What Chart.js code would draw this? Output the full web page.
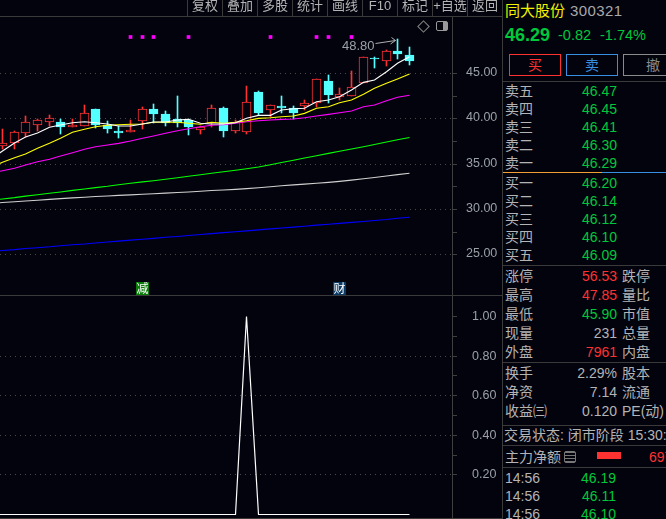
<!DOCTYPE html>
<html>
<head>
<meta charset="utf-8">
<script src="https://cdn.jsdelivr.net/npm/chart.js@4/dist/chart.umd.min.js"></script>
<style>
html, body { margin: 0; padding: 0; background: #03030e; }
#page { position: relative; width: 666px; height: 519px; overflow: hidden; background: #03030e;
        font-family: "Liberation Sans", "Noto Sans CJK SC", sans-serif; font-size: 14px; color: #b4b4b4; }
canvas { position: absolute; left: 0; }
.t { position: absolute; white-space: nowrap; line-height: 18px; height: 18px; }
.r { text-align: right; }
.hl { position: absolute; left: 503px; width: 163px; height: 1px; background: #3a3a3a; }
.tool { position: absolute; top: 0; width: 35px; height: 16px; line-height: 12px; text-align: center; font-size: 13px;
        border-left: 1px solid #3a3a3a; box-sizing: border-box; color: #b4b4b4; overflow: hidden; }
.btn { position: absolute; top: 54px; height: 22px; line-height: 20px; box-sizing: border-box; text-align: center; border: 1px solid; }
.green { color: #00c83c; }
.red { color: #ff3232; }
</style>
</head>
<body>
<div id="page">
  <canvas id="priceChart" width="500" height="279" style="top:16px"></canvas>
  <canvas id="signalChart" width="500" height="223" style="top:296px"></canvas>
  <div style="position:absolute;left:0;top:16px;width:502px;height:1px;background:#3a3a3a"></div>
  <div style="position:absolute;left:0;top:295px;width:502px;height:1px;background:#3a3a3a"></div>
  <div style="position:absolute;left:0;top:518px;width:502px;height:1px;background:#3a3a3a"></div>
  <div style="position:absolute;left:502px;top:0;width:1px;height:519px;background:#3a3a3a"></div>
  <div id="tools"></div>
  <div style="position:absolute;left:419px;top:22px;width:7px;height:7px;border:1px solid #888;transform:rotate(45deg)"></div>
  <div style="position:absolute;left:436px;top:21px;width:10px;height:8px;border:1px solid #999;border-radius:2px;background:linear-gradient(90deg,#03030e 60%,#999 60%)"></div>
  <div id="panel"></div>
</div>
<script>
// toolbar + quote panel text
const toolLabels = ['复权', '叠加', '多股', '统计', '画线', 'F10', '标记', '+自选', '返回'];
const askLabels = ['卖五', '卖四', '卖三', '卖二', '卖一'];
const askPrices = ['46.47', '46.45', '46.41', '46.30', '46.29'];
const bidLabels = ['买一', '买二', '买三', '买四', '买五'];
const bidPrices = ['46.20', '46.14', '46.12', '46.10', '46.09'];
const statLabels = ['涨停', '最高', '最低', '现量', '外盘'];
const statValues = ['56.53', '47.85', '45.90', '231', '7961'];
const statClasses = ['red', 'red', 'green', '', 'red'];
const statRight = ['跌停', '量比', '市值', '总量', '内盘'];
const infoLabels = ['换手', '净资', '收益㈢'];
const infoValues = ['2.29%', '7.14', '0.120'];
const infoRight = ['股本', '流通', 'PE(动)'];
const tickTimes = ['14:56', '14:56', '14:56'];
const tickPrices = ['46.19', '46.11', '46.10'];

// candles, one entry per day
const days = [0, 1, 2, 3, 4, 5, 6, 7, 8, 9, 10, 11, 12, 13, 14, 15, 16, 17, 18, 19, 20, 21, 22, 23, 24, 25, 26, 27, 28, 29, 30, 31, 32, 33, 34, 35];
const opens = [36.98, 37.31, 38.41, 39.30, 39.63, 39.59, 39.04, 39.19, 41.03, 39.26, 38.60, 38.49, 39.74, 41.03, 40.48, 39.93, 39.81, 38.71, 39.48, 41.14, 38.60, 38.52, 42.90, 40.92, 41.36, 41.11, 41.36, 41.69, 44.12, 42.39, 42.50, 43.93, 46.62, 46.36, 47.43, 47.00];
const closes = [37.24, 38.46, 39.56, 39.78, 40.00, 39.04, 39.23, 40.55, 39.26, 38.82, 38.38, 38.68, 41.00, 40.48, 39.48, 39.48, 39.04, 39.04, 41.14, 38.60, 39.59, 41.80, 40.59, 41.44, 41.14, 40.59, 41.66, 44.34, 42.57, 42.65, 43.42, 46.77, 46.51, 47.43, 47.10, 46.29];
const highs = [38.79, 38.60, 40.26, 39.89, 40.37, 39.89, 39.89, 41.47, 41.03, 39.70, 39.15, 39.81, 41.25, 41.58, 40.81, 42.46, 39.93, 39.15, 41.47, 41.25, 39.81, 43.57, 43.01, 41.44, 42.46, 41.36, 42.02, 44.34, 44.78, 43.35, 45.22, 46.77, 46.77, 47.54, 48.80, 47.85];
const lows = [36.62, 36.62, 37.94, 38.60, 39.15, 38.27, 39.04, 39.15, 38.93, 38.41, 37.83, 38.49, 38.82, 39.52, 39.15, 39.04, 38.16, 38.27, 39.04, 37.94, 38.38, 38.27, 40.37, 40.18, 40.59, 39.93, 40.92, 41.25, 41.72, 42.02, 42.46, 43.90, 45.55, 45.77, 46.54, 45.90];

// moving averages, these also carry the day before the first candle (day -1) so they run off the left edge
const ma5 = [35.51, 36.40, 37.28, 37.94, 38.38, 39.01, 39.26, 39.52, 39.63, 39.52, 39.37, 39.15, 39.15, 39.37, 39.59, 39.59, 39.81, 39.89, 39.45, 39.37, 39.37, 39.52, 40.00, 40.33, 40.33, 40.92, 41.06, 41.11, 41.83, 42.02, 42.39, 43.12, 43.97, 44.23, 45.14, 46.07, 46.80];
const ma10 = [34.63, 35.15, 35.66, 36.06, 36.69, 37.24, 37.80, 38.46, 38.79, 39.08, 39.23, 39.30, 39.34, 39.37, 39.56, 39.56, 39.56, 39.45, 39.34, 39.56, 39.45, 39.56, 39.74, 40.00, 40.07, 40.18, 40.26, 40.55, 41.11, 41.28, 41.72, 42.02, 42.65, 43.31, 43.86, 44.34, 44.89];
const ma20 = [33.97, 34.22, 34.49, 34.85, 35.21, 35.48, 35.84, 36.21, 36.58, 36.87, 37.06, 37.24, 37.50, 37.80, 38.05, 38.35, 38.63, 38.86, 39.08, 39.23, 39.30, 39.45, 39.63, 39.74, 39.81, 39.89, 39.93, 40.07, 40.26, 40.44, 40.62, 40.81, 41.28, 41.47, 41.94, 42.32, 42.54];
const ma60 = [30.95, 31.10, 31.25, 31.42, 31.57, 31.73, 31.88, 32.05, 32.20, 32.36, 32.51, 32.68, 32.83, 32.99, 33.12, 33.28, 33.45, 33.61, 33.78, 33.95, 34.10, 34.27, 34.43, 34.63, 34.88, 35.13, 35.38, 35.62, 35.88, 36.13, 36.37, 36.62, 36.87, 37.12, 37.38, 37.63, 37.88];
const ma120 = [30.64, 30.71, 30.79, 30.88, 30.97, 31.06, 31.14, 31.22, 31.30, 31.38, 31.43, 31.50, 31.56, 31.63, 31.68, 31.75, 31.82, 31.88, 31.96, 32.04, 32.09, 32.16, 32.25, 32.34, 32.45, 32.56, 32.66, 32.74, 32.84, 32.94, 33.05, 33.18, 33.33, 33.47, 33.64, 33.79, 33.94];
const ma250 = [25.31, 25.42, 25.52, 25.64, 25.73, 25.83, 25.95, 26.05, 26.14, 26.25, 26.36, 26.45, 26.56, 26.66, 26.76, 26.88, 26.97, 27.07, 27.18, 27.28, 27.39, 27.49, 27.58, 27.70, 27.80, 27.91, 28.00, 28.10, 28.22, 28.31, 28.41, 28.52, 28.62, 28.73, 28.84, 28.97, 29.08];

// signal dots on top, event badges at the bottom, lower panel series
const signalDays = [11, 12, 13, 16, 23, 27, 28, 30];
const signalLevel = 48.94;
const eventDays = [12, 29];
const eventTexts = ['减', '财'];
const eventColors = ['#0a7a0a', '#0a3a66'];
const highLabelDay = 34;
const indicator = [0, 0, 0, 0, 0, 0, 0, 0, 0, 0, 0, 0, 0, 0, 0, 0, 0, 0, 0, 0, 0, 0, 1, 0, 0, 0, 0, 0, 0, 0, 0, 0, 0, 0, 0, 0, 0];

const RED = '#ff3232';
const CYAN = '#54ffff';
const BG = '#03030e';
const GRID = '#4a4a4a';
const AXIS = '#3f3f3f';
const LABEL = '#9aa0a6';

const isUp = i => closes[i] >= opens[i];
const series = values => values.map((v, i) => ({ x: i - 1, y: v }));

// keep marks on whole pixels, the original terminal draws without antialiasing
function snapX(scale) {
    const raw = Object.getPrototypeOf(scale).getPixelForValue;
    scale.getPixelForValue = function (v, i) { return Math.floor(raw.call(this, v, i)) + 0.5; };
}
function snapY(scale) {
    const raw = Object.getPrototypeOf(scale).getPixelForValue;
    scale.getPixelForValue = function (v, i) { return Math.round(raw.call(this, v, i)); };
}
function snapHalfY(scale) {
    const raw = Object.getPrototypeOf(scale).getPixelForValue;
    scale.getPixelForValue = function (v, i) { return Math.floor(raw.call(this, v, i)) + 0.5; };
}

function xAxis() {
    return { type: 'linear', min: -0.232, max: 38.65, offset: false, display: false, afterUpdate: snapX };
}

function yAxis(min, max, step, labelEvery, lo, hi, padding, gridHi, snap) {
    const onMajor = v => Math.abs(v / labelEvery - Math.round(v / labelEvery)) < 1e-6;
    return {
        position: 'right', min: min, max: max, afterUpdate: snap,
        // no room kept for half a label above and below, the area fills the canvas
        afterFit: s => { s.width = 48; s.paddingTop = 0; s.paddingBottom = 0; },
        afterBuildTicks: s => { s.ticks = s.ticks.filter(t => t.value > lo - 1e-6 && t.value < hi + 1e-6); },
        border: { color: AXIS, width: 1, dash: [1, 4] },
        grid: {
            color: c => (c.tick && onMajor(c.tick.value) && c.tick.value < gridHi) ? GRID : 'rgba(0,0,0,0)',
            tickColor: AXIS, tickLength: 5, tickBorderDash: [], drawTicks: true
        },
        ticks: {
            stepSize: step, autoSkip: false, maxRotation: 0, padding: padding, color: LABEL,
            font: { family: '"Liberation Sans"', size: 12.5 }, includeBounds: false,
            callback: v => onMajor(v) ? v.toFixed(2) : ''
        }
    };
}

// 48.80 note and the small event badges, placed from the scales
const notesPlugin = {
    id: 'notes',
    afterDatasetsDraw(chart) {
        const ctx = chart.ctx, x = chart.scales.x, y = chart.scales.y;
        const px = x.getPixelForValue(days[highLabelDay]);
        const py = y.getPixelForValue(highs[highLabelDay]);
        ctx.save();
        ctx.strokeStyle = '#b0b0b0';
        ctx.lineWidth = 1;
        ctx.beginPath();
        ctx.moveTo(px - 22, py + 4.5);
        ctx.lineTo(px - 2, py + 1.5);
        ctx.moveTo(px - 6, py - 1.5);
        ctx.lineTo(px - 2, py + 1.5);
        ctx.lineTo(px - 7, py + 5);
        ctx.stroke();
        ctx.fillStyle = LABEL;
        ctx.font = '13px "Liberation Sans"';
        ctx.textAlign = 'right';
        ctx.textBaseline = 'middle';
        ctx.fillText(highs[highLabelDay].toFixed(2), px - 23, py + 7);
        eventDays.forEach((d, i) => {
            const cx = x.getPixelForValue(days[d]);
            const top = chart.chartArea.bottom - 13;
            ctx.fillStyle = eventColors[i];
            ctx.fillRect(Math.round(cx - 7), top, 13, 13);
            ctx.fillStyle = '#ffffff';
            ctx.font = '12px "Noto Sans CJK SC"';
            ctx.textAlign = 'center';
            ctx.fillText(eventTexts[i], cx, top + 6.5);
        });
        ctx.restore();
    }
};

function maLine(values, color, order) {
    return { type: 'line', yAxisID: 'yLine', data: series(values), borderColor: color, borderWidth: 1.1, pointRadius: 0, tension: 0, order: order };
}

new Chart(document.getElementById('priceChart'), {
    type: 'bar',
    data: {
        datasets: [
            maLine(ma5, '#ffffff', 1),
            maLine(ma10, '#ffff00', 2),
            maLine(ma20, '#ff00ff', 3),
            maLine(ma60, '#00ff00', 4),
            maLine(ma120, '#d0d0d0', 5),
            maLine(ma250, '#0000ff', 6),
            {
                type: 'line', data: signalDays.map(d => ({ x: days[d], y: signalLevel })), showLine: false,
                pointStyle: 'rect', pointRadius: 2.6, pointBackgroundColor: '#ff00ff', pointBorderWidth: 0, order: 0
            },
            {
                data: days.map(i => ({ x: i, y: [opens[i], closes[i]] })), grouped: false, barThickness: 9,
                backgroundColor: days.map(i => isUp(i) ? BG : CYAN),
                borderColor: days.map(i => isUp(i) ? RED : CYAN),
                borderWidth: 1, borderSkipped: false, order: 7
            },
            {
                data: days.map(i => ({ x: i, y: [lows[i], highs[i]] })), grouped: false, barThickness: 1,
                backgroundColor: days.map(i => isUp(i) ? RED : CYAN), borderWidth: 0, order: 8
            }
        ]
    },
    options: {
        responsive: false, animation: false, devicePixelRatio: 1,
        layout: { padding: 0, autoPadding: false },
        plugins: { legend: { display: false }, tooltip: { enabled: false } },
        scales: {
            x: xAxis(),
            y: yAxis(20.51, 51.29, 2.5, 5, 25, 45, 9, 46, snapY),
            yLine: { display: false, min: 20.51, max: 51.29 }
        }
    },
    plugins: [notesPlugin]
});

new Chart(document.getElementById('signalChart'), {
    type: 'line',
    data: {
        datasets: [{ data: series(indicator), borderColor: '#ffffff', borderWidth: 1.2, pointRadius: 0, tension: 0 }]
    },
    options: {
        responsive: false, animation: false, devicePixelRatio: 1,
        layout: { padding: 0, autoPadding: false },
        plugins: { legend: { display: false }, tooltip: { enabled: false } },
        scales: { x: xAxis(), y: yAxis(-0.024, 1.105, 0.1, 0.2, 0.2, 1, 15, 0.9, snapHalfY) }
    }
});

// right hand quote panel, plain text
const panel = document.getElementById('panel');
function text(str, left, cy, cls, style) {
    const el = document.createElement('div');
    el.className = 't ' + (cls || '');
    el.textContent = str;
    el.style.left = left + 'px';
    el.style.top = (cy - 9) + 'px';
    if (style) el.style.cssText += style;
    panel.appendChild(el);
    return el;
}
function valueRight(str, right, cy, cls) {
    const el = text(str, 0, cy, 'r ' + (cls || ''));
    el.style.left = 'auto';
    el.style.right = (666 - right) + 'px';
}
function rule(y) {
    const el = document.createElement('div');
    el.className = 'hl';
    el.style.top = y + 'px';
    panel.appendChild(el);
}

const tools = document.getElementById('tools');
toolLabels.forEach((label, i) => {
    const el = document.createElement('div');
    el.className = 'tool';
    el.style.left = (187 + i * 35) + 'px';
    el.textContent = label;
    tools.appendChild(el);
});

text('同大股份', 505, 11, '', 'color:#f0f000;font-size:15px');
text('300321', 570, 11, '', 'color:#a8a8a8;font-size:15px;letter-spacing:.4px');
text('46.29', 505, 35, 'green', 'font-weight:bold;font-size:18px');
text('-0.82', 558, 35, 'green', 'font-size:14.5px');
text('-1.74%', 600, 35, 'green', 'font-size:14.5px');

[['买', 509, 52, RED], ['卖', 566, 52, '#3a90e0'], ['撤', 623, 60, '#8a8a8a']].forEach(b => {
    const el = document.createElement('div');
    el.className = 'btn';
    el.textContent = b[0];
    el.style.left = b[1] + 'px';
    el.style.width = b[2] + 'px';
    el.style.borderColor = b[3];
    el.style.color = b[3];
    panel.appendChild(el);
});

rule(81);
const askY = [91, 109, 127, 145, 163];
askLabels.forEach((s, i) => { text(s, 505, askY[i]); valueRight(askPrices[i], 617, askY[i], 'green'); });

const split = document.createElement('div');
split.style.cssText = 'position:absolute;left:503px;top:172px;width:163px;height:1px;background:linear-gradient(90deg,#f0a030 61%,#3a90e0 61%)';
panel.appendChild(split);

const bidY = [183, 201, 219, 237, 255];
bidLabels.forEach((s, i) => { text(s, 505, bidY[i]); valueRight(bidPrices[i], 617, bidY[i], 'green'); });

rule(265);
const statY = [276, 295, 314, 333, 352];
statLabels.forEach((s, i) => {
    text(s, 505, statY[i]);
    valueRight(statValues[i], 617, statY[i], statClasses[i]);
    text(statRight[i], 622, statY[i]);
});

rule(362);
const infoY = [373, 392, 411];
infoLabels.forEach((s, i) => {
    text(s, 505, infoY[i]);
    valueRight(infoValues[i], 617, infoY[i]);
    text(infoRight[i], 622, infoY[i]);
});

rule(425);
text('交易状态: 闭市阶段 15:30:00', 504, 435);
rule(445);
text('主力净额', 505, 457);
const icon = document.createElement('div');
icon.style.cssText = 'position:absolute;left:564px;top:451px;width:10px;height:10px;border:1px solid #777;border-radius:2px;background:repeating-linear-gradient(180deg,#777 0 1px,#03030e 1px 3px)';
panel.appendChild(icon);
const bar = document.createElement('div');
bar.style.cssText = 'position:absolute;left:597px;top:452px;width:24px;height:7px;background:' + RED;
panel.appendChild(bar);
text('697', 649, 457, 'red');
rule(467);
const tickY = [478, 496, 514];
tickTimes.forEach((s, i) => { text(s, 505, tickY[i]); valueRight(tickPrices[i], 616, tickY[i], 'green'); });
</script>
</body>
</html>
